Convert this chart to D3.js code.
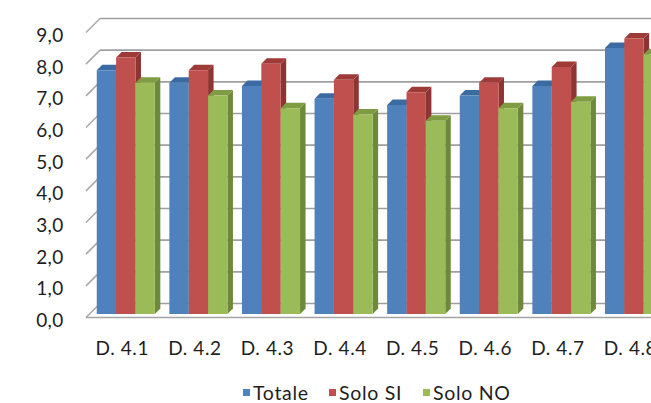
<!DOCTYPE html>
<html>
<head>
<meta charset="utf-8">
<script src="https://cdn.jsdelivr.net/npm/d3@7"></script>
<style>
  html, body { margin: 0; padding: 0; background: #fff; overflow: hidden; }
  svg { display: block; }
  text { font-family: Lato, "Open Sans", sans-serif; fill: #1e1e1e; }
</style>
</head>
<body>
<svg id="chart" width="651" height="403"></svg>
<script>
// Categories and series values
const categories = ["D. 4.1", "D. 4.2", "D. 4.3", "D. 4.4", "D. 4.5", "D. 4.6", "D. 4.7", "D. 4.8"];
const seriesNames = ["Totale", "Solo SI", "Solo NO"];
const totale = [7.7, 7.3, 7.2, 6.8, 6.6, 6.9, 7.2, 8.4];
const soloSi = [8.1, 7.7, 7.9, 7.4, 7.0, 7.3, 7.8, 8.7];
const soloNo = [7.3, 6.9, 6.5, 6.3, 6.1, 6.5, 6.7, 8.2];
const yTicks = [0, 1, 2, 3, 4, 5, 6, 7, 8, 9];

const seriesValues = [totale, soloSi, soloNo];
const palette = [
  { front: "#4f81bd", top: "#3c6aa3", side: "#385f94" },
  { front: "#c0504d", top: "#9e3b39", side: "#8e3533" },
  { front: "#9bbb59", top: "#7f9c43", side: "#6e893a" }
];

const svg = d3.select("#chart");
const fmt = d3.formatLocale({ decimal: ",", thousands: ".", grouping: [3], currency: ["", "€"] }).format(".1f");

// Oblique 3D projection: depth z shifts a point right and up
const wallDepth = 14;
const barZ0 = 3.5, barZ1 = 9;
const proj = (x, y, z) => [x + z, y - z];

const step = 72.6;
const xLeft = 86;
const x0 = d3.scaleBand().domain(categories)
  .range([xLeft, xLeft + step * categories.length])
  .paddingInner(0.2).paddingOuter(0.1);
const x1 = d3.scaleBand().domain(seriesNames).range([0, x0.bandwidth()]);
const y = d3.scaleLinear().domain([0, 9]).range([317.5, 32.5]);
const xRight = xLeft + step * categories.length;

const poly = pts => "M" + pts.map(p => p.join(",")).join("L") + "Z";
const line = pts => "M" + pts.map(p => p.join(",")).join("L");

// Back wall gridlines
const grid = svg.append("g");
yTicks.forEach(v => {
  grid.append("path")
    .attr("d", line([proj(xLeft, y(v), wallDepth), proj(xRight, y(v), wallDepth)]))
    .attr("stroke", "#9f9f9f").attr("stroke-width", 1.6).attr("fill", "none");
  // Left wall ticks (diagonals)
  grid.append("path")
    .attr("d", line([proj(xLeft, y(v), 0), proj(xLeft, y(v), wallDepth)]))
    .attr("stroke", "#ababab").attr("stroke-width", 1.6).attr("fill", "none");
});
// Front floor edge
grid.append("path")
  .attr("d", line([proj(xLeft, y(0), 0), proj(xRight, y(0), 0)]))
  .attr("stroke", "#a3a3a3").attr("stroke-width", 1.6).attr("fill", "none");

// Bars: side face, top face, front face
const bars = svg.append("g");
categories.forEach((c, i) => {
  seriesNames.forEach((s, k) => {
    const v = seriesValues[k][i];
    const xa = x0(c) + x1(s), xb = xa + x1.bandwidth();
    const yt = y(v), yb = y(0);
    const col = palette[k];
    bars.append("path")
      .attr("d", poly([proj(xb, yt, barZ0), proj(xb, yt, barZ1), proj(xb, yb, barZ1), proj(xb, yb, barZ0)]))
      .attr("fill", col.side);
    bars.append("path")
      .attr("d", poly([proj(xa, yt, barZ0), proj(xa, yt, barZ1), proj(xb, yt, barZ1), proj(xb, yt, barZ0)]))
      .attr("fill", col.top);
    bars.append("path")
      .attr("d", poly([proj(xa, yt, barZ0), proj(xb, yt, barZ0), proj(xb, yb, barZ0), proj(xa, yb, barZ0)]))
      .attr("fill", col.front);
  });
});

// Value axis labels
svg.append("g").selectAll("text").data(yTicks).join("text")
  .attr("x", 63.5).attr("y", d => y(d) + 2)
  .attr("text-anchor", "end").attr("dominant-baseline", "central")
  .style("font-size", "19px").style("letter-spacing", "0.3px")
  .text(d => fmt(d));

// Category labels
svg.append("g").selectAll("text").data(categories).join("text")
  .attr("x", d => x0(d) + x0.bandwidth() / 2).attr("y", 354.5)
  .attr("text-anchor", "middle")
  .style("font-size", "19px").style("letter-spacing", "0.6px")
  .text(d => d);

// Legend
const legendItems = [
  { name: "Totale", x: 243 },
  { name: "Solo SI", x: 329 },
  { name: "Solo NO", x: 423 }
];
const legend = svg.append("g");
legendItems.forEach((it, k) => {
  legend.append("rect").attr("x", it.x).attr("y", 389).attr("width", 7).attr("height", 7)
    .attr("fill", palette[k].front);
  legend.append("text").attr("x", it.x + 10).attr("y", 399.5)
    .style("font-size", "19.5px").style("letter-spacing", "0.7px").text(it.name);
});
</script>
</body>
</html>
